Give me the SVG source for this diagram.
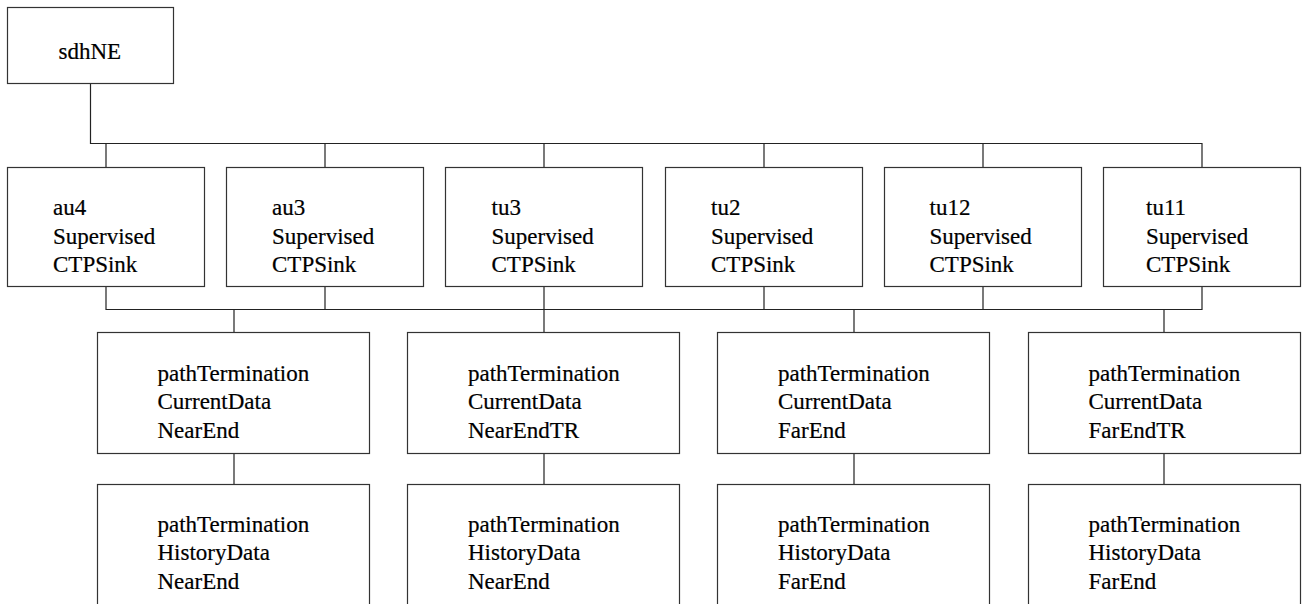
<svg xmlns="http://www.w3.org/2000/svg" width="1306" height="604" viewBox="0 0 1306 604">
<style>
.box{fill:#fff;stroke:#333;stroke-width:1.2}
.t{font-family:'Liberation Serif','Times New Roman',serif;font-size:23px;fill:#000;stroke:#000;stroke-width:0.2}
.c{fill:none;stroke:#222;stroke-width:1.2}
</style>
<rect width="1306" height="604" fill="#fff"/>
<g id="connectors">
<path class="c" d="M90.5,83.5V143.5H1202V167.5"/>
<path class="c" d="M106,143.5V167.5M325,143.5V167.5M544,143.5V167.5M764,143.5V167.5M983,143.5V167.5"/>
<path class="c" d="M106,286.5V309.5H1202V286.5M325,286.5V309.5M544,286.5V309.5M764,286.5V309.5M983,286.5V309.5"/>
<path class="c" d="M234,309.5V332.5M544,309.5V332.5M854,309.5V332.5M1164,309.5V332.5"/>
<path class="c" d="M234,453.5V484.5M544,453.5V484.5M854,453.5V484.5M1164,453.5V484.5"/>
</g>
<g id="sdhNE"><rect class="box" x="7.5" y="7.5" width="166" height="76"/><text class="t" x="58.5" y="58.5">sdhNE</text></g>
<g id="au4"><rect class="box" x="7.5" y="167.5" width="197" height="119"/><text class="t" x="53" y="215">au4<tspan x="53" y="243.5">Supervised</tspan><tspan x="53" y="272">CTPSink</tspan></text></g>
<g id="au3"><rect class="box" x="226.5" y="167.5" width="197" height="119"/><text class="t" x="272" y="215">au3<tspan x="272" y="243.5">Supervised</tspan><tspan x="272" y="272">CTPSink</tspan></text></g>
<g id="tu3"><rect class="box" x="445.5" y="167.5" width="197" height="119"/><text class="t" x="491.5" y="215">tu3<tspan x="491.5" y="243.5">Supervised</tspan><tspan x="491.5" y="272">CTPSink</tspan></text></g>
<g id="tu2"><rect class="box" x="665.5" y="167.5" width="197" height="119"/><text class="t" x="711" y="215">tu2<tspan x="711" y="243.5">Supervised</tspan><tspan x="711" y="272">CTPSink</tspan></text></g>
<g id="tu12"><rect class="box" x="884.5" y="167.5" width="197" height="119"/><text class="t" x="929.5" y="215">tu12<tspan x="929.5" y="243.5">Supervised</tspan><tspan x="929.5" y="272">CTPSink</tspan></text></g>
<g id="tu11"><rect class="box" x="1103.5" y="167.5" width="197" height="119"/><text class="t" x="1146" y="215">tu11<tspan x="1146" y="243.5">Supervised</tspan><tspan x="1146" y="272">CTPSink</tspan></text></g>
<g id="cdNearEnd"><rect class="box" x="97.5" y="332.5" width="272" height="121"/><text class="t" x="157.5" y="381">pathTermination<tspan x="157.5" y="409">CurrentData</tspan><tspan x="157.5" y="437.5">NearEnd</tspan></text></g>
<g id="cdNearEndTR"><rect class="box" x="407.5" y="332.5" width="272" height="121"/><text class="t" x="468" y="381">pathTermination<tspan x="468" y="409">CurrentData</tspan><tspan x="468" y="437.5">NearEndTR</tspan></text></g>
<g id="cdFarEnd"><rect class="box" x="717.5" y="332.5" width="272" height="121"/><text class="t" x="778" y="381">pathTermination<tspan x="778" y="409">CurrentData</tspan><tspan x="778" y="437.5">FarEnd</tspan></text></g>
<g id="cdFarEndTR"><rect class="box" x="1028.5" y="332.5" width="272" height="121"/><text class="t" x="1088.5" y="381">pathTermination<tspan x="1088.5" y="409">CurrentData</tspan><tspan x="1088.5" y="437.5">FarEndTR</tspan></text></g>
<g id="hdNearEnd1"><rect class="box" x="97.5" y="484.5" width="272" height="130"/><text class="t" x="157.5" y="531.5">pathTermination<tspan x="157.5" y="560">HistoryData</tspan><tspan x="157.5" y="588.5">NearEnd</tspan></text></g>
<g id="hdNearEnd2"><rect class="box" x="407.5" y="484.5" width="272" height="130"/><text class="t" x="468" y="531.5">pathTermination<tspan x="468" y="560">HistoryData</tspan><tspan x="468" y="588.5">NearEnd</tspan></text></g>
<g id="hdFarEnd1"><rect class="box" x="717.5" y="484.5" width="272" height="130"/><text class="t" x="778" y="531.5">pathTermination<tspan x="778" y="560">HistoryData</tspan><tspan x="778" y="588.5">FarEnd</tspan></text></g>
<g id="hdFarEnd2"><rect class="box" x="1028.5" y="484.5" width="272" height="130"/><text class="t" x="1088.5" y="531.5">pathTermination<tspan x="1088.5" y="560">HistoryData</tspan><tspan x="1088.5" y="588.5">FarEnd</tspan></text></g>
</svg>
